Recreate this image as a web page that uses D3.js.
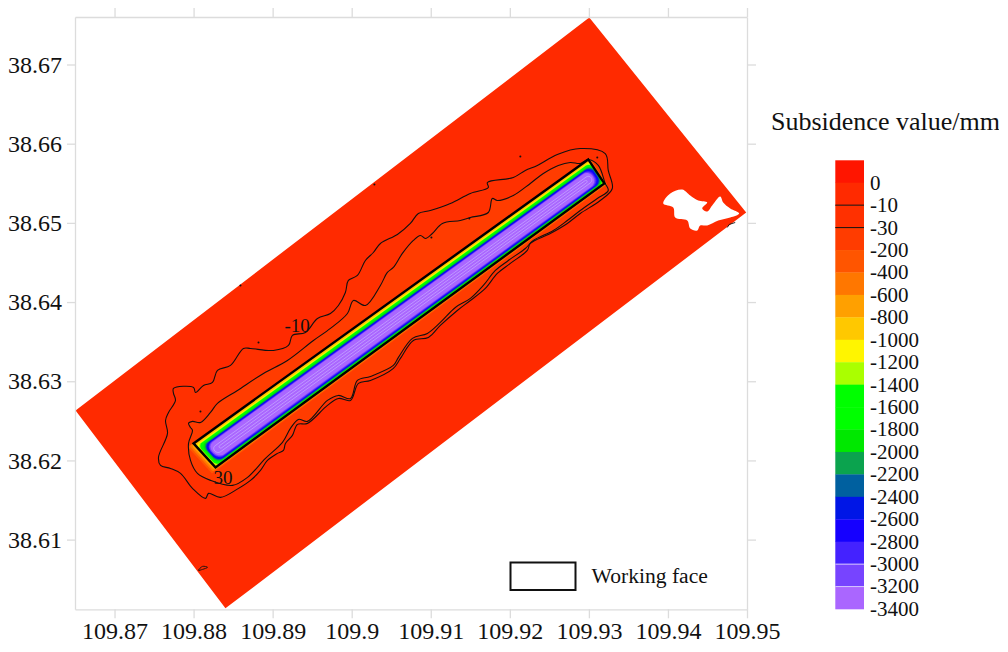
<!DOCTYPE html>
<html>
<head>
<meta charset="utf-8">
<script src="https://cdn.jsdelivr.net/npm/d3@7"></script>
<style>
  body { margin: 0; background: #fff; }
  text { font-family: "Liberation Serif", serif; fill: #111; }
</style>
</head>
<body>
<script>
const xTicks = [109.87, 109.88, 109.89, 109.9, 109.91, 109.92, 109.93, 109.94, 109.95]
const yTicks = [38.61, 38.62, 38.63, 38.64, 38.65, 38.66, 38.67]

const legendLabels = [0, -10, -30, -200, -400, -600, -800, -1000, -1200, -1400, -1600, -1800, -2000, -2200, -2400, -2600, -2800, -3000, -3200, -3400]
const legendColors = ['#ff1500', '#ff2a00', '#ff3000', '#ff3c00', '#ff5500', '#ff7700', '#ffa000', '#ffc800', '#fff500', '#aaff00',
  '#00ff00', '#00ff00', '#00e800', '#0ba34e', '#00609f', '#0016e6', '#1500ff', '#4422ff', '#7744ff', '#aa66ff']

// surveyed area, lon/lat
const areaOutline = [[109.86507, 38.62632], [109.93005, 38.67593], [109.9499, 38.65131], [109.88403, 38.60132]]
const areaHole = [[109.93941, 38.65245], [109.94029, 38.65371], [109.94181, 38.65422], [109.94282, 38.65346], [109.94383, 38.65283],
  [109.94497, 38.65258], [109.94434, 38.65182], [109.94497, 38.65144], [109.9456, 38.6522], [109.94661, 38.65333], [109.94699, 38.65258],
  [109.94788, 38.65182], [109.94901, 38.65119], [109.94788, 38.65068], [109.94636, 38.6503], [109.94497, 38.64967], [109.94408, 38.64967],
  [109.9437, 38.64904], [109.94282, 38.64929], [109.94244, 38.6503], [109.94092, 38.65068], [109.94067, 38.65195]]

const workingFace = [[109.87999, 38.62215], [109.92992, 38.65801], [109.93195, 38.65498], [109.88277, 38.61912]]

// -10 mm contour
const contour10 = [[109.87746, 38.62909], [109.87999, 38.62922], [109.88024, 38.62859], [109.88125, 38.62947], [109.88239, 38.62985],
  [109.88302, 38.63137], [109.88467, 38.632], [109.88631, 38.63414], [109.8872, 38.63414], [109.8901, 38.63389], [109.892, 38.63452],
  [109.8925, 38.63579], [109.89415, 38.63616], [109.89567, 38.63793], [109.89731, 38.63856], [109.89832, 38.63957], [109.8992, 38.64121],
  [109.89958, 38.64273], [109.90072, 38.64336], [109.90173, 38.64525], [109.90274, 38.64626], [109.90363, 38.6474], [109.90578, 38.64854],
  [109.90742, 38.64993], [109.90843, 38.65119], [109.90995, 38.65157], [109.91248, 38.65245], [109.91501, 38.65371], [109.91728, 38.65447],
  [109.91716, 38.6551], [109.92044, 38.65573], [109.92196, 38.65662], [109.92348, 38.65725], [109.92601, 38.65864], [109.92891, 38.65939],
  [109.93207, 38.65876], [109.93245, 38.65662], [109.93296, 38.65434], [109.93144, 38.65283], [109.92891, 38.65119], [109.92727, 38.64993],
  [109.92512, 38.64866], [109.92259, 38.6474], [109.92221, 38.64652], [109.92006, 38.64488], [109.91842, 38.64361], [109.9169, 38.64172],
  [109.91501, 38.6402], [109.91336, 38.63894], [109.91121, 38.63705], [109.9097, 38.63553], [109.9078, 38.63515], [109.90616, 38.63288],
  [109.90527, 38.63162], [109.90237, 38.6301], [109.90085, 38.62973], [109.89984, 38.62758], [109.89832, 38.62783], [109.89693, 38.62695],
  [109.8944, 38.62468], [109.89314, 38.62455], [109.8925, 38.62316], [109.89162, 38.62215], [109.89137, 38.62127], [109.89061, 38.62089],
  [109.88934, 38.62], [109.88846, 38.61874], [109.8872, 38.61748], [109.88568, 38.61647], [109.8834, 38.61533], [109.88189, 38.61584],
  [109.88151, 38.61521], [109.87986, 38.61647], [109.87835, 38.61836], [109.87708, 38.61899], [109.87582, 38.61937], [109.87556, 38.62038],
  [109.8767, 38.62341], [109.87645, 38.62505], [109.87683, 38.62606], [109.87771, 38.62758], [109.87746, 38.62846]]

// -30 mm contour
const contour30 = [[109.87936, 38.62468], [109.87986, 38.62493], [109.88087, 38.6248], [109.88214, 38.62606], [109.88302, 38.6272],
  [109.88555, 38.62884], [109.88884, 38.63099], [109.89187, 38.63263], [109.89516, 38.63515], [109.89731, 38.63667], [109.89946, 38.63856],
  [109.90022, 38.6402], [109.90173, 38.63957], [109.90363, 38.6421], [109.90451, 38.64374], [109.90527, 38.64437], [109.90641, 38.64614],
  [109.9078, 38.64778], [109.90869, 38.64841], [109.90932, 38.64803], [109.9102, 38.64866], [109.91147, 38.64993], [109.91374, 38.6503],
  [109.91501, 38.65068], [109.91728, 38.65131], [109.91779, 38.65308], [109.91842, 38.65283], [109.92044, 38.65346], [109.92259, 38.65498],
  [109.92424, 38.65624], [109.92613, 38.65725], [109.92765, 38.65763], [109.92891, 38.6575], [109.92992, 38.65801], [109.93119, 38.65725],
  [109.93207, 38.65498], [109.93245, 38.65409], [109.93106, 38.65308], [109.92891, 38.65157], [109.92727, 38.6503], [109.9255, 38.64904],
  [109.92297, 38.64778], [109.92196, 38.64677], [109.91981, 38.64525], [109.91817, 38.64399], [109.91665, 38.6421], [109.91501, 38.64046],
  [109.91311, 38.63932], [109.91121, 38.63743], [109.90957, 38.63604], [109.90768, 38.63541], [109.90591, 38.63301], [109.90527, 38.632],
  [109.90237, 38.63061], [109.90072, 38.6301], [109.89984, 38.62783], [109.89832, 38.62821], [109.89693, 38.62758], [109.8944, 38.62493],
  [109.89326, 38.62518], [109.89225, 38.62404], [109.89124, 38.62228], [109.88909, 38.62026], [109.88682, 38.61786], [109.88492, 38.61685],
  [109.88214, 38.61748], [109.88049, 38.61836], [109.87961, 38.62], [109.87936, 38.62215], [109.87986, 38.62379], [109.87961, 38.62417]]

// small closed -10 loop and arc near the area edge
const edgeLoop = [[109.88062, 38.60612], [109.88113, 38.60662], [109.88176, 38.6065], [109.88113, 38.60624]]
const edgeArc = [[109.9475, 38.64942], [109.94775, 38.6498], [109.94851, 38.65005]]
const specks = [[109.88593, 38.6421], [109.88821, 38.6349], [109.88087, 38.62619], [109.91008, 38.64816], [109.91488, 38.65056],
  [109.92133, 38.65838], [109.93106, 38.65826], [109.90287, 38.65485]]

const contourLabels = ['-10', '30']
const contourLabelAt = [[109.89149, 38.63616], [109.88252, 38.61697]]

// subsidence bands read across (v) and along (u) the panel, as fractions of the working face
const bandLevels = [-200, -400, -600, -800, -1000, -1200, -1400, -1600, -1800, -2000, -2200, -2400, -2600, -2800, -3000, -3200]
const bandVStart = [-0.01, -0.005, 0.02, 0.05, 0.09, 0.115, 0.13, 0.155, 0.19, 0.215, 0.23, 0.245, 0.26, 0.28, 0.295, 0.31]
const bandVEnd = [1.09, 1.06, 1.04, 1.02, 1, 0.99, 0.98, 0.97, 0.95, 0.93, 0.915, 0.9, 0.885, 0.865, 0.845, 0.825]
const bandUStart = [-0.014, -0.01, -0.006, -0.002, 0, 0.002, 0.004, 0.006, 0.008, 0.01, 0.011, 0.012, 0.013, 0.015, 0.016, 0.018]
const bandUEnd = [1.004, 1.003, 1.002, 1.001, 1, 1, 0.999, 0.999, 0.998, 0.998, 0.997, 0.996, 0.994, 0.992, 0.99, 0.988]

// pale inner contours
const paleVStart = [0.45, 0.53]
const paleVEnd = [0.7, 0.62]
const paleUStart = [0.022, 0.034]
const paleUEnd = [0.984, 0.973]

const svg = d3.select('body')
  .append('svg')
  .attr('width', 1008)
  .attr('height', 652)
  .style('display', 'block')

const x = d3.scaleLinear().domain([109.865, 109.95]).range([75, 747])
const y = d3.scaleLinear().domain([38.6012, 38.676]).range([609.3, 17])

const line = d3.line().x(d => x(d[0])).y(d => y(d[1]))
const closed = pts => line(pts) + 'Z'
const smooth = d3.line().x(d => x(d[0])).y(d => y(d[1])).curve(d3.curveCatmullRomClosed)

// position inside the working face
function facePoint(u, v) {
  const [a, b, c, d] = workingFace
  const top = [a[0] + (b[0] - a[0]) * u, a[1] + (b[1] - a[1]) * u]
  const bot = [d[0] + (c[0] - d[0]) * u, d[1] + (c[1] - d[1]) * u]
  return [top[0] + (bot[0] - top[0]) * v, top[1] + (bot[1] - top[1]) * v]
}

// rounded outline of one band
function bandRing(u0, u1, v0, v1, round) {
  const dv = round * (v1 - v0) / 2
  const du = dv * 0.062
  const corners = [[u1 - du, v0 + dv, -90], [u1 - du, v1 - dv, 0], [u0 + du, v1 - dv, 90], [u0 + du, v0 + dv, 180]]
  const pts = []
  corners.forEach(c => {
    d3.range(0, 91, 15).forEach(a => {
      const t = (c[2] + a) * Math.PI / 180
      pts.push(facePoint(c[0] + du * Math.cos(t), c[1] + dv * Math.sin(t)))
    })
  })
  return pts
}

const colorOf = level => legendColors[legendLabels.indexOf(level) + 1]

// filled map
svg.append('path')
  .attr('d', closed(areaOutline) + smooth(areaHole))
  .attr('fill-rule', 'evenodd')
  .attr('fill', legendColors[1])

svg.append('path').attr('d', smooth(contour10)).attr('fill', legendColors[2])
svg.append('path').attr('d', smooth(contour30)).attr('fill', legendColors[3])

const roundness = d3.scaleLinear().domain([0, bandLevels.length - 1]).range([0.06, 0.9])

svg.append('g').selectAll('path')
  .data(bandLevels)
  .join('path')
  .attr('d', (d, i) => closed(bandRing(bandUStart[i], bandUEnd[i], bandVStart[i], bandVEnd[i], roundness(i))))
  .attr('fill', d => colorOf(d))

svg.append('g').selectAll('path')
  .data(paleVStart)
  .join('path')
  .attr('d', (d, i) => closed(bandRing(paleUStart[i], paleUEnd[i], paleVStart[i], paleVEnd[i], 1)))
  .attr('fill', 'none')
  .attr('stroke', '#cdb9ff')
  .attr('stroke-width', 0.6)

// contour lines
svg.append('path').attr('d', smooth(contour10)).attr('fill', 'none').attr('stroke', '#111').attr('stroke-width', 1.1)
svg.append('path').attr('d', smooth(contour30)).attr('fill', 'none').attr('stroke', '#111').attr('stroke-width', 1.1)
svg.append('path').attr('d', smooth(edgeLoop)).attr('fill', 'none').attr('stroke', '#111').attr('stroke-width', 0.9)
svg.append('path').attr('d', line(edgeArc)).attr('fill', 'none').attr('stroke', '#111').attr('stroke-width', 0.9)

svg.append('g').selectAll('circle')
  .data(specks)
  .join('circle')
  .attr('cx', d => x(d[0]))
  .attr('cy', d => y(d[1]))
  .attr('r', 1)
  .attr('fill', '#111')

svg.append('path')
  .attr('d', closed(workingFace))
  .attr('fill', 'none')
  .attr('stroke', '#000')
  .attr('stroke-width', 2.4)

svg.append('g').selectAll('text')
  .data(contourLabels)
  .join('text')
  .attr('x', (d, i) => x(contourLabelAt[i][0]))
  .attr('y', (d, i) => y(contourLabelAt[i][1]))
  .attr('font-size', 19)
  .text(d => d)

// axes
function styleAxis(g) {
  g.selectAll('path').attr('stroke', '#dcdcdc').attr('stroke-width', 1.3)
  g.selectAll('line').attr('stroke', '#dcdcdc').attr('stroke-width', 1.3)
}

const gBottom = svg.append('g')
  .attr('transform', `translate(0,${y.range()[0]})`)
  .call(d3.axisBottom(x).tickValues(xTicks).tickFormat(d => d).tickSize(9).tickSizeOuter(0).tickPadding(4))
  .call(styleAxis)
gBottom.selectAll('text').attr('font-size', 24).attr('font-family', '"Liberation Serif", serif').attr('fill', '#111')

const gLeft = svg.append('g')
  .attr('transform', `translate(${x.range()[0]},0)`)
  .call(d3.axisLeft(y).tickValues(yTicks).tickFormat(d => d).tickSize(8).tickSizeOuter(0).tickPadding(5))
  .call(styleAxis)
gLeft.selectAll('text').attr('font-size', 24).attr('font-family', '"Liberation Serif", serif').attr('fill', '#111')

svg.append('g')
  .attr('transform', `translate(${x.range()[1]},0)`)
  .call(d3.axisRight(y).tickValues(yTicks).tickFormat('').tickSize(9).tickSizeOuter(0))
  .call(styleAxis)

svg.append('g')
  .attr('transform', `translate(0,${y.range()[1]})`)
  .call(d3.axisTop(x).tickValues(xTicks).tickFormat('').tickSize(9).tickSizeOuter(0))
  .call(styleAxis)

// working face key
svg.append('rect')
  .attr('x', 510.5).attr('y', 562.5)
  .attr('width', 65).attr('height', 27.5)
  .attr('fill', '#fff')
  .attr('stroke', '#111')
  .attr('stroke-width', 2)

svg.append('text')
  .attr('x', 591.5).attr('y', 583)
  .attr('font-size', 21.6)
  .text('Working face')

// colour bar
svg.append('clipPath').attr('id', 'titleClip')
  .append('rect').attr('x', 760).attr('y', 100).attr('width', 239).attr('height', 40)

svg.append('text')
  .attr('x', 771).attr('y', 130)
  .attr('font-size', 26)
  .attr('clip-path', 'url(#titleClip)')
  .text('Subsidence value/mm')

const bar = d3.scaleBand().domain(d3.range(legendColors.length)).range([160.3, 609])

svg.append('g').selectAll('rect')
  .data(legendColors)
  .join('rect')
  .attr('x', 835.3)
  .attr('y', (d, i) => bar(i))
  .attr('width', 28.7)
  .attr('height', bar.bandwidth() + 0.3)
  .attr('fill', d => d)

const barLineColor = { '-10': '#111', '-30': '#111', '-3000': '#d6c8ff', '-3200': '#d6c8ff' }

svg.append('g').selectAll('line')
  .data(legendLabels.filter(d => barLineColor[d]))
  .join('line')
  .attr('x1', 835.3).attr('x2', 864)
  .attr('y1', d => bar(legendLabels.indexOf(d)) + bar.bandwidth())
  .attr('y2', d => bar(legendLabels.indexOf(d)) + bar.bandwidth())
  .attr('stroke', d => barLineColor[d])
  .attr('stroke-width', 1)

svg.append('g').selectAll('text')
  .data(legendLabels)
  .join('text')
  .attr('x', 870)
  .attr('y', (d, i) => bar(i) + bar.bandwidth())
  .attr('dy', '0.33em')
  .attr('font-size', 21)
  .text(d => d)
</script>
</body>
</html>
